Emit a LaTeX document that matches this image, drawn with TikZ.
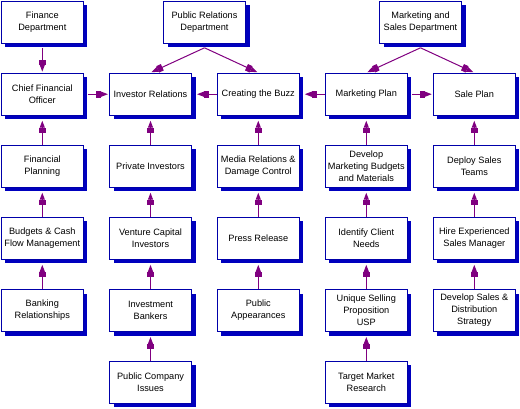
\documentclass[tikz,border=0pt]{standalone}
\usepackage{fontspec}
\setmainfont{Liberation Sans}
\usetikzlibrary{arrows.meta,shadows}
\definecolor{bordblue}{RGB}{0,0,170}
\definecolor{shadblue}{RGB}{0,0,190}
\definecolor{arrpurple}{RGB}{128,0,128}
\begin{document}
\begin{tikzpicture}[x=1pt,y=-1pt,
  box/.style={draw=bordblue, line width=1pt, fill=white, minimum width=82pt, minimum height=42pt,
    inner sep=0pt, align=center, font=\fontsize{9.2}{12}\selectfont,
    general shadow={shadow xshift=4pt, shadow yshift=-4pt, fill=shadblue, draw=none}},
  arr/.style={draw=arrpurple, line width=1pt, shorten >=1pt,
    -{Rectangle[length=5pt,width=7pt]Triangle[length=7pt,width=5pt]}}]
\useasboundingbox (0,0) rectangle (520,408);
% departments
\node[box] (fin) at (42.3,22.3) {Finance\\Department};
\node[box] (pr) at (204.5,22.3) {Public Relations\\Department};
\node[box] (ms) at (420.5,22.3) {Marketing and\\Sales Department};
% column 1
\node[box] (cfo) at (42.3,94.2) {Chief Financial\\Officer};
\node[box] (fp) at (42.3,166.2) {Financial\\Planning};
\node[box] (bud) at (42.3,238.3) {Budgets \& Cash\\Flow Management};
\node[box] (bank) at (42.3,310.5) {Banking\\Relationships};
% column 2
\node[box] (ir) at (150.5,94.2) {Investor Relations};
\node[box] (pi) at (150.5,166.2) {Private Investors};
\node[box] (vc) at (150.5,238.3) {Venture Capital\\Investors};
\node[box] (ib) at (150.5,310.5) {Investment\\Bankers};
\node[box] (pci) at (150.5,382.2) {Public Company\\Issues};
% column 3
\node[box] (ctb) at (258.3,94.2) {Creating the Buzz};
\node[box] (med) at (258.3,166.2) {Media Relations \&\\Damage Control};
\node[box] (prs) at (258.3,238.3) {Press Release};
\node[box] (pa) at (258.3,310.5) {Public\\Appearances};
% column 4
\node[box] (mp) at (366.3,94.2) {Marketing Plan};
\node[box] (dev) at (366.3,166.2) {Develop\\Marketing Budgets\\and Materials};
\node[box] (icn) at (366.3,238.3) {Identify Client\\Needs};
\node[box] (usp) at (366.3,310.5) {Unique Selling\\Proposition\\USP};
\node[box] (tmr) at (366.3,382.2) {Target Market\\Research};
% column 5
\node[box] (sp) at (474.3,94.2) {Sale Plan};
\node[box] (dst) at (474.3,166.2) {Deploy Sales\\Teams};
\node[box] (hes) at (474.3,238.3) {Hire Experienced\\Sales Manager};
\node[box] (dsd) at (474.3,310.5) {Develop Sales \&\\Distribution\\Strategy};
% department arrows
\draw[arr] ([yshift=-4pt]fin.south) -- (cfo.north);
\draw[arr] ([yshift=-4pt]pr.south) -- (ir.north);
\draw[arr] ([yshift=-4pt]pr.south) -- (ctb.north);
\draw[arr] ([yshift=-4pt]ms.south) -- (mp.north);
\draw[arr] ([yshift=-4pt]ms.south) -- (sp.north);
% horizontal arrows
\draw[arr] ([xshift=4pt]cfo.east) -- (ir.west);
\draw[arr] (ctb.west) -- ([xshift=4pt]ir.east);
\draw[arr] (mp.west) -- ([xshift=4pt]ctb.east);
\draw[arr] ([xshift=4pt]mp.east) -- (sp.west);
% vertical arrows
\foreach \c/\p in {fp/cfo,bud/fp,bank/bud,pi/ir,vc/pi,ib/vc,pci/ib,med/ctb,prs/med,pa/prs,
  dev/mp,icn/dev,usp/icn,tmr/usp,dst/sp,hes/dst,dsd/hes}
  \draw[arr] (\c.north) -- ([yshift=-4pt]\p.south);
\end{tikzpicture}
\end{document}
